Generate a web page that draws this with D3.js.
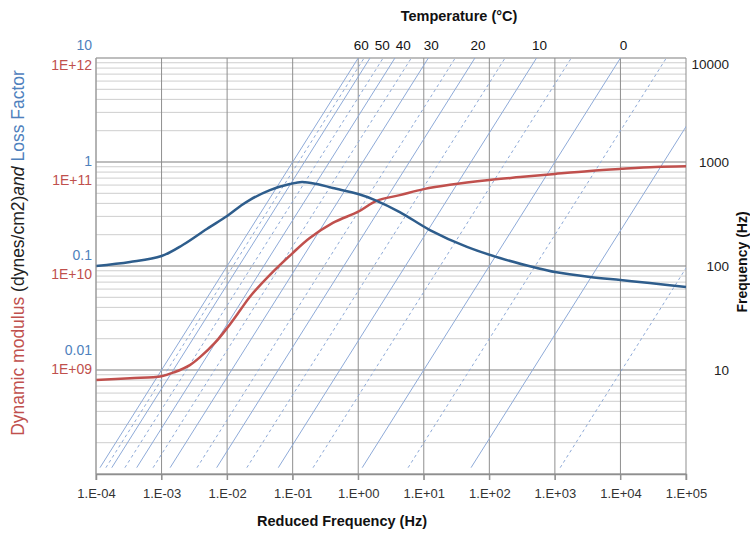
<!DOCTYPE html>
<html><head><meta charset="utf-8">
<script src="https://cdn.jsdelivr.net/npm/d3@7"></script>
<style>body{margin:0;background:#fff} text{font-family:"Liberation Sans",Arial,sans-serif}</style>
</head><body><svg id="c" width="750" height="534"></svg>
<script>
// ---- data ----
const modFreq   = [1e-4, 3.3e-4, 1e-3, 1.6e-3, 2.7e-3, 3.9e-3, 6.5e-3, 1e-2, 1.6e-2, 2.2e-2, 4.5e-2, 0.1, 0.18, 0.41, 1, 1.9, 4.3, 10, 25, 100, 295, 1000, 3400, 1e4, 3.4e4, 1e5];
const modulus   = [7.66e8, 8.0e8, 8.4e8, 9.3e8, 1.1e9, 1.34e9, 1.88e9, 2.7e9, 4.2e9, 5.7e9, 9.8e9, 1.67e10, 2.4e10, 3.5e10, 4.6e10, 6.0e10, 6.9e10, 8.0e10, 8.9e10, 1.0e11, 1.06e11, 1.13e11, 1.2e11, 1.25e11, 1.3e11, 1.32e11];
const lossFreq  = [1e-4, 3.3e-4, 1e-3, 2.1e-3, 4.9e-3, 1e-2, 1.6e-2, 2.2e-2, 4.5e-2, 9.1e-2, 0.139, 0.235, 0.41, 1, 1.8, 4.3, 12.4, 45.6, 145, 533, 1000, 3430, 1e4, 2.8e4, 1e5];
const lossFactor= [0.0766, 0.0844, 0.0976, 0.128, 0.19, 0.261, 0.334, 0.387, 0.495, 0.574, 0.604, 0.574, 0.521, 0.449, 0.387, 0.288, 0.185, 0.122, 0.093, 0.073, 0.0662, 0.0587, 0.0545, 0.0507, 0.046];
const isoTemps    = [60, 55, 50, 45, 40, 35, 30, 25, 20, 15, 10, 5, 0, -5, -10, -15];
const isoLogShift = [-4.0, -3.91, -3.82, -3.62, -3.44, -3.19, -2.93, -2.52, -2.22, -1.76, -1.28, -0.75, 0, 0.70, 1.66, 3.02];
const labeledTemps = [60, 50, 40, 30, 20, 10, 0];
const isoFreqRange = [1.15, 1e4];
const xTicks = [1e-4, 1e-3, 1e-2, 1e-1, 1, 10, 100, 1e3, 1e4, 1e5];
const freqTicks = [10, 100, 1000, 10000];
const modulusTicks = [1e9, 1e10, 1e11, 1e12];
const modulusTickLabels = ["1E+09", "1E+10", "1E+11", "1E+12"];
const lossTicks = [0.01, 0.1, 1, 10];
const lossTickLabels = ["0.01", "0.1", "1", "10"];

// ---- layout ----
const L = 96, R = 686, T = 58, B = 474;
const svg = d3.select("#c");
const x  = d3.scaleLog().domain([1e-4, 1e5]).range([L, R]);
const yF = d3.scaleLog().domain([1, 1e4]).range([B, T]);
const yM = d3.scaleLog().domain([1e9, 1e10, 1e11, 1e12]).range([369, 274, 180, 65]);
const yL = d3.scaleLog().domain([0.01, 0.1, 1, 10]).range([350, 255, 161.5, 45]);

const RED = "#c0504d", BLUE = "#2e5d8c", LBLUE = "#4f81bd", ISO = "#8eaad8";

// minor horizontal gridlines
const minor = [];
[1, 10, 100, 1000].forEach(d => { for (let k = 2; k <= 9; k++) minor.push(d * k); });
svg.append("g").selectAll("line").data(minor).join("line")
  .attr("x1", L).attr("x2", R).attr("y1", d => yF(d)).attr("y2", d => yF(d))
  .attr("stroke", "#cecece").attr("stroke-width", 1);
// major horizontal gridlines
svg.append("g").selectAll("line").data([1, 10, 100, 1000, 10000]).join("line")
  .attr("x1", L).attr("x2", R).attr("y1", d => yF(d)).attr("y2", d => yF(d))
  .attr("stroke", "#a8a8a8").attr("stroke-width", 1.5);
// vertical gridlines
svg.append("g").selectAll("line").data(xTicks).join("line")
  .attr("x1", d => x(d)).attr("x2", d => x(d)).attr("y1", T).attr("y2", B + 6)
  .attr("stroke", "#8f8f8f").attr("stroke-width", 1);

// isotherms
svg.append("defs").append("clipPath").attr("id", "pc").append("rect")
  .attr("x", L).attr("y", T).attr("width", R - L).attr("height", B - T);
const iso = svg.append("g").attr("clip-path", "url(#pc)");
isoTemps.forEach((t, i) => {
  const aT = Math.pow(10, isoLogShift[i]);
  iso.append("line")
    .attr("x1", x(isoFreqRange[0] * aT)).attr("y1", yF(isoFreqRange[0]))
    .attr("x2", x(isoFreqRange[1] * aT)).attr("y2", yF(isoFreqRange[1]))
    .attr("stroke", ISO).attr("stroke-width", 1)
    .attr("stroke-dasharray", t % 10 === 0 ? null : "3,3");
});

// curves
const lineGen = d3.line().curve(d3.curveCatmullRom.alpha(0.5));
svg.append("path")
  .attr("d", lineGen(modFreq.map((f, i) => [x(f), yM(modulus[i])])))
  .attr("fill", "none").attr("stroke", RED).attr("stroke-width", 2.5);
svg.append("path")
  .attr("d", lineGen(lossFreq.map((f, i) => [x(f), yL(lossFactor[i])])))
  .attr("fill", "none").attr("stroke", BLUE).attr("stroke-width", 2.5);

// bottom axis
const fmtX = d => { const e = Math.round(Math.log10(d)); return "1.E" + (e < 0 ? "-" : "+") + String(Math.abs(e)).padStart(2, "0"); };
const xAxis = svg.append("g").attr("transform", `translate(0,${B})`)
  .call(d3.axisBottom(x).tickValues(xTicks).tickFormat(fmtX).tickSize(6).tickPadding(9));
xAxis.select(".domain").attr("stroke", "#8f8f8f").attr("stroke-width", 1.5);
xAxis.selectAll(".tick line").attr("stroke", "#8f8f8f");
xAxis.selectAll("text").attr("font-size", 13).attr("fill", "#333").style("font-family", "'Liberation Sans',Arial,sans-serif");

// right axis
const rAxis = svg.append("g").attr("transform", `translate(${R},0)`)
  .call(d3.axisRight(yF).tickValues(freqTicks).tickFormat(d3.format("d")).tickSize(0));
rAxis.select(".domain").remove();
rAxis.selectAll("text").attr("x", 43).attr("text-anchor", "end").attr("font-size", 13.5).attr("fill", "#222")
  .style("font-family", "'Liberation Sans',Arial,sans-serif")
  .attr("dy", d => d === 10000 ? "0.8em" : "0.3em");

// left axes
const mAxis = svg.append("g").attr("transform", `translate(${L},0)`)
  .call(d3.axisLeft(yM).tickValues(modulusTicks).tickFormat((d, i) => modulusTickLabels[i]).tickSize(0).tickPadding(4));
mAxis.select(".domain").remove();
mAxis.selectAll("text").attr("font-size", 14).attr("fill", RED).style("font-family", "'Liberation Sans',Arial,sans-serif");
const lAxis = svg.append("g").attr("transform", `translate(${L},0)`)
  .call(d3.axisLeft(yL).tickValues(lossTicks).tickFormat((d, i) => lossTickLabels[i]).tickSize(0).tickPadding(4));
lAxis.select(".domain").remove();
lAxis.selectAll("text").attr("font-size", 14).attr("fill", LBLUE).style("font-family", "'Liberation Sans',Arial,sans-serif");
// left border
svg.append("line").attr("x1", L).attr("x2", L).attr("y1", T).attr("y2", B).attr("stroke", "#a0a0a0");

// temperature labels at top of isotherms
let lastX = -1e9;
labeledTemps.forEach(t => {
  const i = isoTemps.indexOf(t);
  let px = x(isoFreqRange[1] * Math.pow(10, isoLogShift[i])) + 3;
  px = Math.max(px, lastX + 21);
  lastX = px;
  svg.append("text").attr("x", px).attr("y", 50).attr("text-anchor", "middle")
    .attr("font-size", 13.5).attr("fill", "#111").text(t);
});

// titles
svg.append("text").attr("x", 459).attr("y", 21).attr("text-anchor", "middle")
  .attr("font-size", 14.5).attr("font-weight", "bold").attr("fill", "#111").text("Temperature (°C)");
svg.append("text").attr("x", 342).attr("y", 526).attr("text-anchor", "middle")
  .attr("font-size", 14.5).attr("font-weight", "bold").attr("fill", "#111").text("Reduced Frequency (Hz)");
svg.append("text").attr("transform", "translate(747,262) rotate(-90)").attr("text-anchor", "middle")
  .attr("font-size", 14).attr("font-weight", "bold").attr("fill", "#111").text("Frequency (Hz)");
const lt = svg.append("text").attr("transform", "translate(24,253) rotate(-90)").attr("text-anchor", "middle")
  .attr("font-size", 17.5);
lt.append("tspan").attr("fill", RED).text("Dynamic modulus ");
lt.append("tspan").attr("fill", "#222").text("(dynes/cm2)");
lt.append("tspan").attr("fill", "#222").attr("font-style", "italic").text("and ");
lt.append("tspan").attr("fill", LBLUE).text("Loss Factor");
</script></body></html>
